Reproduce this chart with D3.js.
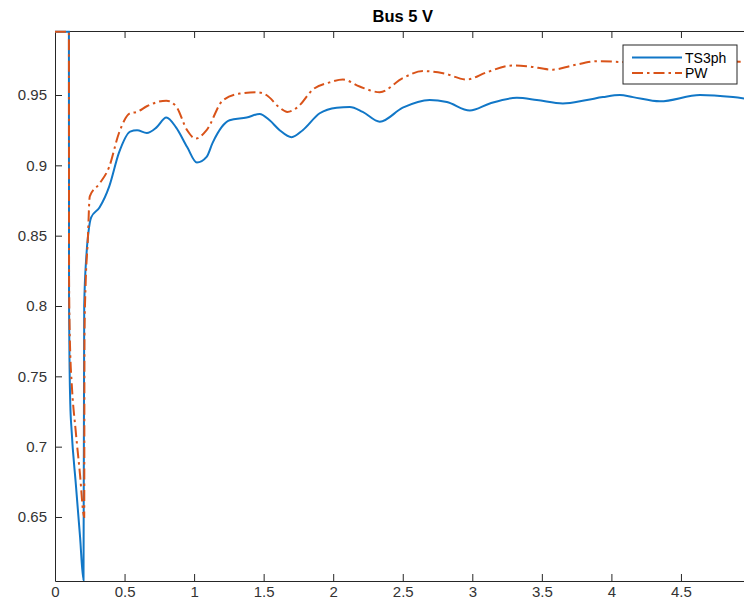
<!DOCTYPE html>
<html>
<head>
<meta charset="utf-8">
<script src="https://cdn.jsdelivr.net/npm/d3@7"></script>
<style>
  body { margin: 0; background: #fff; }
  svg { font-family: "Liberation Sans", Arial, sans-serif; }
</style>
</head>
<body>
<div id="chart"></div>
<script>
// time (s) and voltage (pu)
var tBlue = [0, 0.1, 0.101, 0.105, 0.11, 0.119, 0.15, 0.18, 0.205, 0.21, 0.225, 0.24, 0.26,
  0.32, 0.39, 0.46, 0.54, 0.59, 0.66, 0.73, 0.80, 0.87, 0.95, 1.02, 1.09, 1.133, 1.255,
  1.378, 1.471, 1.543, 1.615, 1.701, 1.781, 1.903, 2.025, 2.119, 2.212, 2.335, 2.5,
  2.694, 2.817, 2.982, 3.126, 3.32, 3.464, 3.651, 3.824, 3.939, 4.061, 4.155, 4.349,
  4.637, 4.874, 5.0];
var vBlue = [0.995, 0.995, 0.80, 0.755, 0.73, 0.712, 0.673, 0.636, 0.605, 0.80, 0.835, 0.852, 0.863,
  0.87, 0.885, 0.909, 0.924, 0.925, 0.923, 0.927, 0.934, 0.927, 0.913, 0.902, 0.906, 0.916, 0.932,
  0.934, 0.9365, 0.932, 0.925, 0.920, 0.925, 0.937, 0.941, 0.9415, 0.938, 0.931, 0.941,
  0.9465, 0.945, 0.939, 0.944, 0.948, 0.9465, 0.944, 0.9465, 0.9485, 0.95, 0.9485, 0.9455,
  0.95, 0.9485, 0.947];

var tOrange = [0, 0.1, 0.101, 0.105, 0.11, 0.12, 0.15, 0.18, 0.205, 0.21, 0.212, 0.22, 0.235,
  0.25, 0.32, 0.39, 0.46, 0.54, 0.59, 0.66, 0.80, 0.87, 0.95, 1.01, 1.09, 1.205, 1.327,
  1.45, 1.52, 1.615, 1.67, 1.74, 1.855, 1.975, 2.07, 2.19, 2.335, 2.5, 2.645, 2.79,
  2.96, 3.1, 3.29, 3.39, 3.58, 3.72, 3.9, 4.06, 4.3, 4.6, 5.0];
var vOrange = [0.995, 0.995, 0.82, 0.785, 0.765, 0.745, 0.71, 0.68, 0.652, 0.65, 0.78, 0.815, 0.845,
  0.878, 0.887, 0.899, 0.923, 0.937, 0.938, 0.942, 0.946, 0.942, 0.925, 0.919, 0.925, 0.946, 0.951,
  0.952, 0.950, 0.941, 0.938, 0.941, 0.954, 0.959, 0.961, 0.956, 0.952, 0.962, 0.967, 0.9655,
  0.961, 0.966, 0.971, 0.9705, 0.968, 0.971, 0.974, 0.9735, 0.972, 0.974, 0.9735];

var seriesNames = ["TS3ph", "PW"];
var xTicks = [0, 0.5, 1, 1.5, 2, 2.5, 3, 3.5, 4, 4.5];
var yTicks = [0.65, 0.7, 0.75, 0.8, 0.85, 0.9, 0.95];

function drawChart() {
  var width = 744, height = 602;
  var margin = {left: 55, top: 31, right: 750.5, bottom: 581};

  var svg = d3.select("#chart").append("svg")
      .attr("width", width)
      .attr("height", height);

  var x = d3.scaleLinear().domain([0, 5]).range([margin.left, margin.right]);
  var y = d3.scaleLinear().domain([0.6045, 0.9955]).range([margin.bottom, margin.top]);

  svg.append("defs").append("clipPath").attr("id", "clip")
    .append("rect")
      .attr("x", margin.left).attr("y", margin.top - 2)
      .attr("width", margin.right - margin.left)
      .attr("height", margin.bottom - margin.top + 2);

  var axisColor = "#262626";

  // bottom axis
  var gx = svg.append("g")
      .attr("transform", "translate(0," + margin.bottom + ")")
      .call(d3.axisBottom(x).tickValues(xTicks).tickSizeInner(-7).tickSizeOuter(0)
        .tickFormat(d3.format("~g")));
  gx.selectAll("text").attr("y", 5);

  // top axis, no labels
  svg.append("g")
      .attr("transform", "translate(0," + margin.top + ")")
      .call(d3.axisTop(x).tickValues(xTicks).tickSizeInner(-7).tickSizeOuter(0)
        .tickFormat(""));

  // left axis
  var gy = svg.append("g")
      .attr("transform", "translate(" + margin.left + ",0)")
      .call(d3.axisLeft(y).tickValues(yTicks).tickSizeInner(-7).tickSizeOuter(0)
        .tickFormat(d3.format("~g")));
  gy.selectAll("text").attr("x", -8);

  svg.selectAll(".tick text")
      .style("font-size", "15px")
      .style("fill", "#333");
  svg.selectAll(".domain, .tick line")
      .attr("stroke", axisColor);

  // title
  svg.append("text")
      .attr("x", (margin.left + margin.right) / 2)
      .attr("y", 22)
      .attr("text-anchor", "middle")
      .style("font-size", "16.5px")
      .style("font-weight", "bold")
      .style("fill", "#000")
      .text("Bus 5 V");

  var line = d3.line()
      .x(function(d) { return x(d[0]); })
      .y(function(d) { return y(d[1]); })
      .curve(d3.curveMonotoneX);

  var blueData = tBlue.map(function(t, i) { return [t, vBlue[i]]; });
  var orangeData = tOrange.map(function(t, i) { return [t, vOrange[i]]; });

  var plot = svg.append("g").attr("clip-path", "url(#clip)");

  plot.append("path")
      .attr("d", line(blueData))
      .style("fill", "none")
      .style("stroke", "#1177C7")
      .style("stroke-width", 2);

  plot.append("path")
      .attr("d", line(orangeData))
      .style("fill", "none")
      .style("stroke", "#D95319")
      .style("stroke-width", 2)
      .style("stroke-dasharray", "11,4,2.5,4");

  // legend
  var lg = svg.append("g");
  lg.append("rect")
      .attr("x", 623).attr("y", 45)
      .attr("width", 114).attr("height", 39)
      .style("fill", "#fff")
      .style("stroke", axisColor)
      .style("stroke-width", 1);

  var legendColors = ["#1177C7", "#D95319"];
  var legendDash = [null, "11,4,2.5,4"];
  seriesNames.forEach(function(name, i) {
    var ly = 57.5 + i * 15.5;
    lg.append("line")
        .attr("x1", 632).attr("x2", 682)
        .attr("y1", ly).attr("y2", ly)
        .style("stroke", legendColors[i])
        .style("stroke-width", 2)
        .style("stroke-dasharray", legendDash[i]);
    lg.append("text")
        .attr("x", 685).attr("y", ly + 5)
        .style("font-size", "14px")
        .style("fill", "#000")
        .text(name);
  });
}

drawChart();
</script>
</body>
</html>
